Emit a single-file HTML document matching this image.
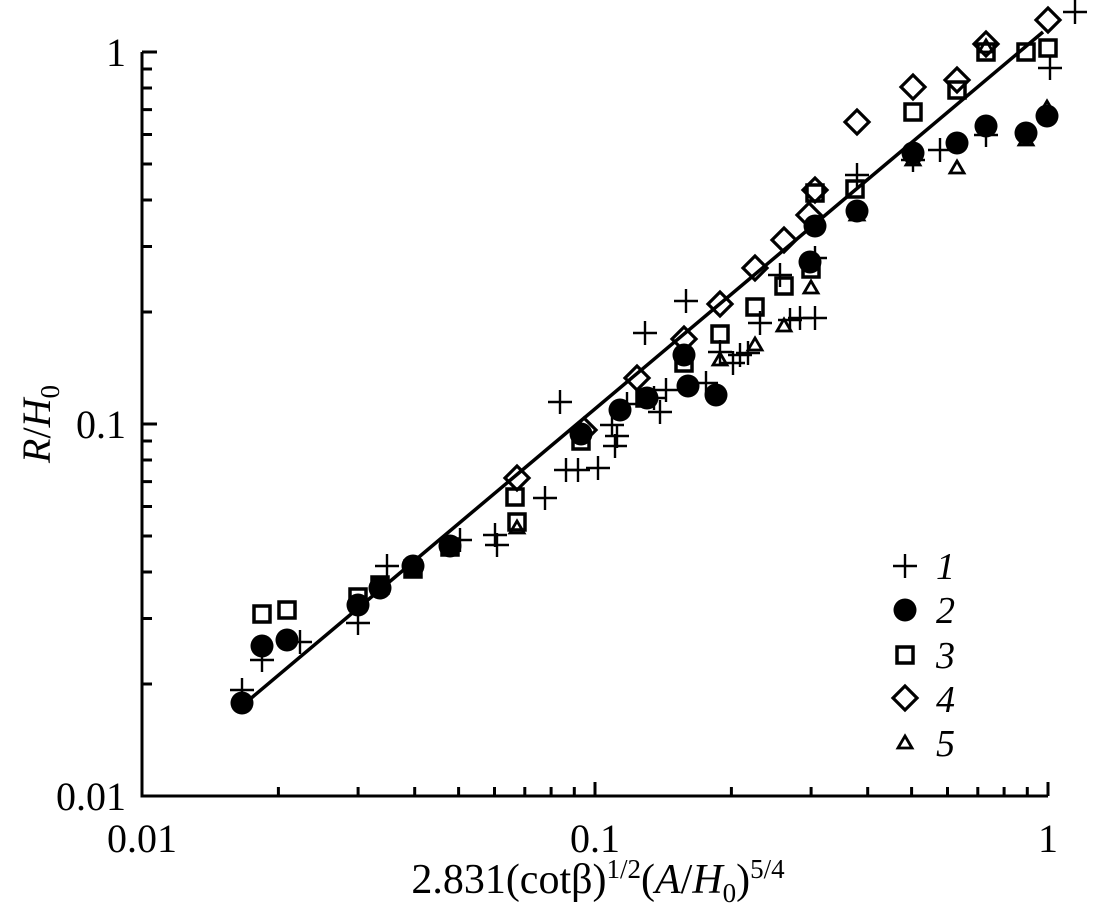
<!DOCTYPE html>
<html><head><meta charset="utf-8"><style>
html,body{margin:0;padding:0;background:#fff;}
svg{display:block;}
text{font-family:"Liberation Serif",serif;fill:#000;}
</style></head><body>
<svg width="1095" height="908" viewBox="0 0 1095 908" xmlns="http://www.w3.org/2000/svg">
<defs>
<g id="p"><path d="M-12,0H12M0,-12V12" stroke="#000" stroke-width="2.4" fill="none"/></g>
<g id="c"><circle r="11.5" fill="#000"/></g>
<g id="s"><rect x="-8" y="-8" width="16" height="16" fill="none" stroke="#000" stroke-width="3.5"/></g>
<g id="d"><path d="M0,-12L12,0L0,12L-12,0Z" fill="none" stroke="#000" stroke-width="3.2"/></g>
<g id="t"><path d="M0,-7L7,5H-7Z" fill="none" stroke="#000" stroke-width="2.8"/></g>
</defs>
<g stroke="#000" stroke-width="3" fill="none">
<path d="M142,52V796H1048"/>
<path d="M278.4,796v-9M358.1,796v-9M414.7,796v-9M458.6,796v-9M494.5,796v-9M524.8,796v-9M551.1,796v-9M574.3,796v-9M595,796v-14M731.4,796v-9M811.1,796v-9M867.7,796v-9M911.6,796v-9M947.5,796v-9M977.8,796v-9M1004.1,796v-9M1027.3,796v-9M1048,796v-14"/>
<path d="M142,684h10M142,618.5h10M142,572h10M142,536h10M142,506.5h10M142,481.6h10M142,460h10M142,441h10M142,424h15M142,312h10M142,246.5h10M142,200h10M142,164h10M142,134.5h10M142,109.6h10M142,88h10M142,69h10M142,52h15"/>
<path d="M243,705L1043,32" stroke-width="3.5"/>
</g>
<g font-size="40">
<text x="126" y="66" text-anchor="end">1</text>
<text x="126" y="438" text-anchor="end">0.1</text>
<text x="126" y="810" text-anchor="end">0.01</text>
<text x="142" y="852" text-anchor="middle">0.01</text>
<text x="595" y="852" text-anchor="middle">0.1</text>
<text x="1048" y="852" text-anchor="middle">1</text>
</g>
<text x="598" y="893" text-anchor="middle" font-size="42">2.831(cotβ)<tspan font-size="27" dy="-15">1/2</tspan><tspan dy="15">(</tspan><tspan font-style="italic">A</tspan>/<tspan font-style="italic">H</tspan><tspan font-size="27" dy="9">0</tspan><tspan dy="-9">)</tspan><tspan font-size="27" dy="-15">5/4</tspan></text>
<text transform="translate(50,424) rotate(-90)" text-anchor="middle" font-size="40"><tspan font-style="italic">R</tspan>/<tspan font-style="italic">H</tspan><tspan font-size="27" dy="9">0</tspan></text>
<g>
<use href="#p" x="242" y="690"/><use href="#p" x="262" y="660"/><use href="#p" x="300" y="642"/><use href="#p" x="358" y="623"/><use href="#p" x="387" y="566"/><use href="#p" x="460" y="540"/><use href="#p" x="495" y="535"/><use href="#p" x="497" y="545"/><use href="#p" x="545" y="498"/><use href="#p" x="560" y="402"/><use href="#p" x="566" y="470"/><use href="#p" x="578" y="470"/><use href="#p" x="598" y="468"/><use href="#p" x="612" y="425"/><use href="#p" x="617" y="436"/><use href="#p" x="615" y="446"/><use href="#p" x="627" y="404"/><use href="#p" x="645" y="333"/><use href="#p" x="654" y="398"/><use href="#p" x="660" y="412"/><use href="#p" x="666" y="390"/><use href="#p" x="686" y="301"/><use href="#p" x="720" y="352"/><use href="#p" x="706" y="383"/><use href="#p" x="733" y="363"/><use href="#p" x="740" y="355"/><use href="#p" x="748" y="353"/><use href="#p" x="760" y="323"/><use href="#p" x="780" y="275"/><use href="#p" x="790" y="320"/><use href="#p" x="800" y="318"/><use href="#p" x="815" y="318"/><use href="#p" x="815" y="258"/><use href="#p" x="857" y="175"/><use href="#p" x="913" y="160"/><use href="#p" x="940" y="150"/><use href="#p" x="986" y="135"/><use href="#p" x="1050" y="68"/><use href="#p" x="1075" y="12"/>
</g>
<g>
<use href="#s" x="262" y="614"/><use href="#s" x="287" y="610"/><use href="#s" x="358" y="597"/><use href="#s" x="380" y="585"/><use href="#s" x="413" y="569"/><use href="#s" x="450" y="547"/><use href="#s" x="517" y="522"/><use href="#s" x="515" y="497"/><use href="#s" x="581" y="441"/><use href="#s" x="645" y="398"/><use href="#s" x="684" y="363"/><use href="#s" x="720" y="334"/><use href="#s" x="755" y="307"/><use href="#s" x="784" y="286"/><use href="#s" x="811" y="269"/><use href="#s" x="815" y="193"/><use href="#s" x="855" y="189"/><use href="#s" x="913" y="112"/><use href="#s" x="957" y="90"/><use href="#s" x="986" y="52"/><use href="#s" x="1026" y="52"/><use href="#s" x="1048" y="48"/>
</g>
<g>
<use href="#d" x="517" y="478"/><use href="#d" x="584" y="430"/><use href="#d" x="637" y="378"/><use href="#d" x="684" y="339"/><use href="#d" x="720" y="304"/><use href="#d" x="755" y="268"/><use href="#d" x="784" y="240"/><use href="#d" x="809" y="215"/><use href="#d" x="815" y="190"/><use href="#d" x="857" y="122"/><use href="#d" x="913" y="87"/><use href="#d" x="957" y="80"/><use href="#d" x="986" y="44"/><use href="#d" x="1048" y="20"/>
</g>
<g>
<use href="#t" x="517" y="528"/><use href="#t" x="720" y="360"/><use href="#t" x="755" y="345"/><use href="#t" x="784" y="326"/><use href="#t" x="811" y="288"/><use href="#t" x="857" y="215"/><use href="#t" x="913" y="160"/><use href="#t" x="957" y="168"/><use href="#t" x="986" y="47"/><use href="#t" x="1026" y="140"/><use href="#t" x="1047" y="108"/>
</g>
<g>
<use href="#c" x="242" y="703"/><use href="#c" x="262" y="646"/><use href="#c" x="287" y="640"/><use href="#c" x="358" y="605"/><use href="#c" x="380" y="588"/><use href="#c" x="413" y="566"/><use href="#c" x="450" y="546"/><use href="#c" x="581" y="434"/><use href="#c" x="620" y="410"/><use href="#c" x="647" y="398"/><use href="#c" x="684" y="355"/><use href="#c" x="688" y="386"/><use href="#c" x="716" y="395"/><use href="#c" x="815" y="226"/><use href="#c" x="810" y="262"/><use href="#c" x="857" y="211"/><use href="#c" x="913" y="153"/><use href="#c" x="957" y="143"/><use href="#c" x="986" y="126"/><use href="#c" x="1026" y="133"/><use href="#c" x="1047" y="116"/>
</g>
<use href="#p" x="905" y="566"/>
<use href="#c" x="905" y="610"/>
<use href="#s" x="905" y="655"/>
<use href="#d" x="905" y="698"/>
<use href="#t" x="905" y="743"/>
<g font-size="38" font-style="italic">
<text x="936" y="579">1</text>
<text x="936" y="623">2</text>
<text x="936" y="668">3</text>
<text x="936" y="712">4</text>
<text x="936" y="756">5</text>
</g>
</svg>
</body></html>
